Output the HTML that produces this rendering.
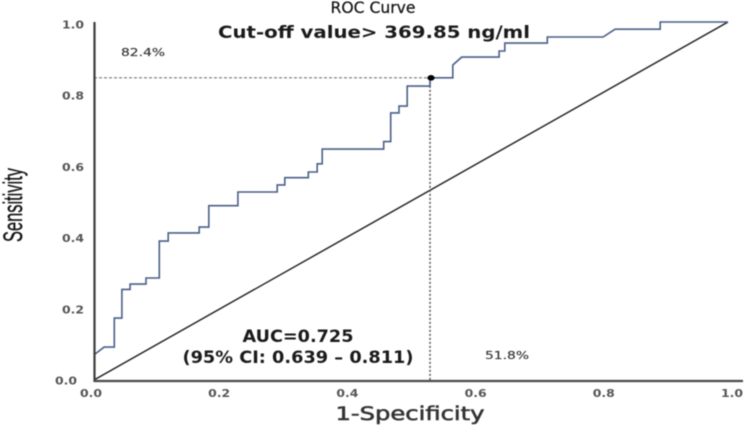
<!DOCTYPE html>
<html>
<head>
<meta charset="utf-8">
<style>
html,body{margin:0;padding:0;background:#fff;width:746px;height:426px;overflow:hidden}
svg{display:block;filter:blur(.45px)}
text{font-family:"DejaVu Sans","Liberation Sans",sans-serif}
</style>
</head>
<body>
<svg id="chart" width="746" height="426" viewBox="0 0 746 426" xmlns="http://www.w3.org/2000/svg">
<text x="373" y="13" text-anchor="middle" font-size="16" fill="#111" stroke="#111" stroke-width="0.2" textLength="85" lengthAdjust="spacingAndGlyphs">ROC Curve</text>
<text x="374" y="38" text-anchor="middle" font-size="16.5" font-weight="bold" fill="#1a1a1a" textLength="312" lengthAdjust="spacingAndGlyphs">Cut-off value&gt; 369.85 ng/ml</text>
<text x="121" y="56" font-size="10.5" fill="#333" stroke="#333" stroke-width="0.15" textLength="44" lengthAdjust="spacingAndGlyphs">82.4%</text>
<text x="485" y="359" font-size="10.5" fill="#333" stroke="#333" stroke-width="0.15" textLength="44" lengthAdjust="spacingAndGlyphs">51.8%</text>
<text x="298" y="342" text-anchor="middle" font-size="16.5" font-weight="bold" fill="#1a1a1a" textLength="111" lengthAdjust="spacingAndGlyphs">AUC=0.725</text>
<text x="298" y="363" text-anchor="middle" font-size="16.5" font-weight="bold" fill="#1a1a1a" textLength="231" lengthAdjust="spacingAndGlyphs">(95% CI: 0.639 – 0.811)</text>
<text x="410" y="420" text-anchor="middle" font-size="18.5" fill="#333" stroke="#333" stroke-width="0.55" textLength="149" lengthAdjust="spacingAndGlyphs">1-Specificity</text>
<text transform="translate(22,242) rotate(-90)" x="0" y="0" font-size="27" fill="#111" stroke="#111" stroke-width="0.3" textLength="74" lengthAdjust="spacingAndGlyphs" style="font-family:'Liberation Sans',sans-serif">Sensitivity</text>
<g id="plot"></g>
</svg>
<script>
var xTicks = [0, 0.2, 0.4, 0.6, 0.8, 1];
var yTicks = [0, 0.2, 0.4, 0.6, 0.8, 1];
var fpr = [0.002,0.016,0.032,0.032,0.044,0.044,0.057,0.057,0.082,0.082,0.103,0.103,0.117,0.117,0.166,0.166,0.181,0.181,0.227,0.227,0.289,0.289,0.301,0.301,0.338,0.338,0.352,0.352,0.360,0.360,0.457,0.457,0.468,0.468,0.481,0.481,0.494,0.494,0.530,0.530,0.566,0.566,0.580,0.639,0.639,0.648,0.648,0.715,0.715,0.803,0.822,0.893,0.893,1];
var tpr = [0.073,0.092,0.092,0.173,0.173,0.253,0.253,0.268,0.268,0.285,0.285,0.388,0.388,0.411,0.411,0.427,0.427,0.487,0.487,0.525,0.525,0.545,0.545,0.565,0.565,0.581,0.581,0.604,0.604,0.645,0.645,0.666,0.666,0.746,0.746,0.765,0.765,0.821,0.821,0.844,0.844,0.880,0.902,0.902,0.919,0.919,0.941,0.941,0.958,0.958,0.980,0.980,1,1];
var cutoffFpr = 0.530;
var cutoffTpr = 0.844;

var NS = 'http://www.w3.org/2000/svg';
var plot = document.getElementById('plot');
function sx(v){ return 94 + v * 634; }
function sy(v){ return 380 - v * 358; }
function labelX(v){ return 91 + v * 641; }
function labelY(v){ return 381 - v * 356; }
function add(tag, attrs, parent){
  var el = document.createElementNS(NS, tag);
  for (var k in attrs) el.setAttribute(k, attrs[k]);
  (parent || plot).appendChild(el);
  return el;
}

var refLine = add('line', {x1:sx(0), y1:sy(0), x2:sx(1), y2:sy(1), stroke:'#1c1c1c', 'stroke-width':1.4});



var hGuide = add('line', {x1:sx(0), y1:sy(cutoffTpr), x2:sx(cutoffFpr), y2:sy(cutoffTpr), stroke:'#777', 'stroke-width':1.1, 'stroke-dasharray':'3 2'});



var vGuide = add('line', {x1:sx(cutoffFpr), y1:sy(cutoffTpr), x2:sx(cutoffFpr), y2:sy(0), stroke:'#555', 'stroke-width':1.5, 'stroke-dasharray':'2 2'});



var pts = fpr.map(function(f, i){ return sx(f).toFixed(1) + ',' + sy(tpr[i]).toFixed(1); }).join(' ');
var curve = add('polyline', {points:pts, fill:'none', stroke:'#4a5f88', 'stroke-width':1.6});



var yAxis = add('line', {x1:94.5, y1:22, x2:94.5, y2:382, stroke:'#3c3c3c', 'stroke-width':2.2});



var xAxis = add('line', {x1:94, y1:381, x2:743, y2:381, stroke:'#4a4a4a', 'stroke-width':2.2});



var dot = add('ellipse', {cx:sx(cutoffFpr)+1, cy:sy(cutoffTpr), rx:3.6, ry:2.8, fill:'#000'});



xTicks.forEach(function(t){
  var lab = add('text', {x:labelX(t), y:397, 'text-anchor':'middle', 'font-size':10.5, 'font-weight':'bold', fill:'#555', textLength:22, lengthAdjust:'spacingAndGlyphs'});
  
  
  lab.textContent = t.toFixed(1);
});
yTicks.forEach(function(t){
  var lab = add('text', {x:t === 0 ? 77 : 84, y:labelY(t)+3.5, 'text-anchor':'end', 'font-size':10.5, 'font-weight':'bold', fill:'#555', textLength:22, lengthAdjust:'spacingAndGlyphs'});
  
  
  lab.textContent = t.toFixed(1);
});
</script>
</body>
</html>
